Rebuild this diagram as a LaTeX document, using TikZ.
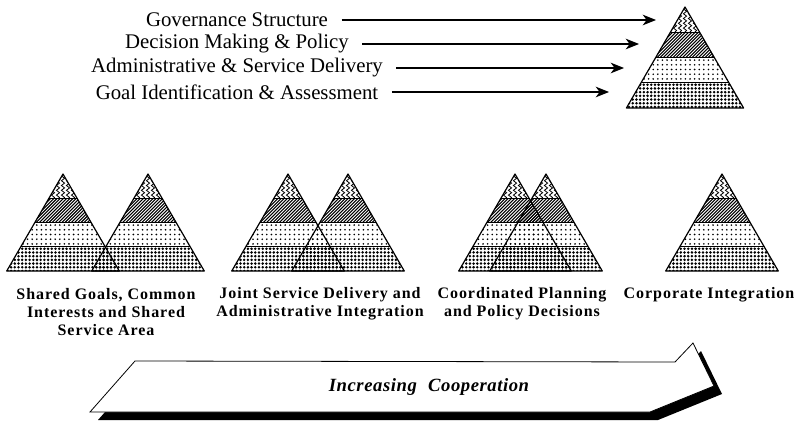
\documentclass[tikz,border=0pt]{standalone}
\usepackage{fontspec}
\setmainfont{Liberation Serif}
\newfontfamily\capfont[LetterSpace=6]{Liberation Serif}
\newfontfamily\banfont[LetterSpace=3]{Liberation Serif}
\usetikzlibrary{arrows.meta,decorations.pathmorphing}

\tikzset{
  edge/.style={line width=0.9pt, line join=round},
  wavy/.style={line width=0.6pt, decorate,
    decoration={snake, segment length=3.6pt, amplitude=1.2pt}},
  hatch/.style={line width=0.8pt},
  lvl/.style={font=\fontsize{15.6}{18}\selectfont, inner sep=2pt},
  stagecap/.style={font=\capfont\bfseries\fontsize{12}{13.6}\selectfont,
    align=center, inner sep=0pt},
  feed/.style={line width=0.95pt, shorten <=8pt,
    -{Stealth[length=10pt,width=8pt,inset=3pt]}},
  face/.style={fill=white, draw=black, line width=0.6pt, line join=miter},
}

% geometry of one pyramid: apex (#1,#2), height #3, four equal bands
\newcommand\pyrgeom[3]{%
  \pgfmathsetmacro\pqx{#1}\pgfmathsetmacro\pqy{#2}%
  \pgfmathsetmacro\pqh{#3/4}%
  \pgfmathsetmacro\pqya{\pqy+\pqh}\pgfmathsetmacro\pqyb{\pqy+2*\pqh}%
  \pgfmathsetmacro\pqyc{\pqy+3*\pqh}\pgfmathsetmacro\pqyd{\pqy+4*\pqh}%
  \pgfmathsetmacro\pqwa{0.58*\pqh}\pgfmathsetmacro\pqwb{2*\pqwa}%
  \pgfmathsetmacro\pqwc{3*\pqwa}\pgfmathsetmacro\pqwd{4*\pqwa}%
}

% the four textured bands of a pyramid
\newcommand\pyrfill[3]{%
  \pyrgeom{#1}{#2}{#3}%
  % tip: vertical waves
  \begin{scope}
    \clip (\pqx,\pqy) -- (\pqx+\pqwa,\pqya) -- (\pqx-\pqwa,\pqya) -- cycle;
    \foreach \j in {-3,...,3}
      \draw[wavy] (\pqx+\j*5,\pqy-2) -- (\pqx+\j*5,\pqya+2);
  \end{scope}
  % second band: diagonal hatching
  \begin{scope}
    \clip (\pqx-\pqwa,\pqya) -- (\pqx+\pqwa,\pqya) -- (\pqx+\pqwb,\pqyb)
      -- (\pqx-\pqwb,\pqyb) -- cycle;
    \pgfmathsetmacro\hs{3.2*floor((\pqx-\pqwb-\pqh-2)/3.2)}%
    \pgfmathsetmacro\ht{\hs+3.2}\pgfmathsetmacro\he{\pqx+\pqwb}%
    \foreach \u in {\hs,\ht,...,\he}
      \draw[hatch] (\u,\pqyb+1) -- ++(\pqh+2,-\pqh-2);
  \end{scope}
  % third band: sparse dots
  \begin{scope}
    \clip (\pqx-\pqwb,\pqyb) -- (\pqx+\pqwb,\pqyb) -- (\pqx+\pqwc,\pqyc)
      -- (\pqx-\pqwc,\pqyc) -- cycle;
    \pgfmathsetmacro\ds{4.6*floor((\pqx-\pqwc)/4.6)}%
    \pgfmathsetmacro\dt{\ds+4.6}\pgfmathsetmacro\de{\pqx+\pqwc}%
    \pgfmathsetmacro\rs{\pqyb+2.6}\pgfmathsetmacro\rt{\rs+4.7}%
    \foreach \u in {\ds,\dt,...,\de}
      \foreach \v in {\rs,\rt,...,\pqyc}
        \fill (\u,\v) circle[radius=0.68pt];
  \end{scope}
  % base band: dense dots
  \begin{scope}
    \clip (\pqx-\pqwc,\pqyc) -- (\pqx+\pqwc,\pqyc) -- (\pqx+\pqwd,\pqyd)
      -- (\pqx-\pqwd,\pqyd) -- cycle;
    \pgfmathsetmacro\ds{3.7*floor((\pqx-\pqwd)/3.7)}%
    \pgfmathsetmacro\dt{\ds+3.7}\pgfmathsetmacro\de{\pqx+\pqwd}%
    \pgfmathsetmacro\rs{\pqyc+2}\pgfmathsetmacro\rt{\rs+3.7}%
    \foreach \u in {\ds,\dt,...,\de}
      \foreach \v in {\rs,\rt,...,\pqyd}
        \fill (\u,\v) circle[radius=1.05pt];
  \end{scope}
}

% outline and band borders of a pyramid
\newcommand\pyredge[3]{%
  \pyrgeom{#1}{#2}{#3}%
  \draw[edge] (\pqx,\pqy) -- (\pqx+\pqwd,\pqyd) -- (\pqx-\pqwd,\pqyd) -- cycle;
  \draw[edge] (\pqx-\pqwa,\pqya) -- (\pqx+\pqwa,\pqya)
              (\pqx-\pqwb,\pqyb) -- (\pqx+\pqwb,\pqyb)
              (\pqx-\pqwc,\pqyc) -- (\pqx+\pqwc,\pqyc);
}

\begin{document}
\begin{tikzpicture}[x=0.75pt, y=-0.75pt]
  \useasboundingbox (0,0) rectangle (810,439);

  % ---- legend pyramid and its levels ----
  \pyrfill{685}{7}{101}
  \pyredge{685}{7}{101}

  \node[lvl] (g1) at (237,20) {Governance Structure};
  \node[lvl] (g2) at (237,44) {Decision Making \& Policy};
  \node[lvl] (g3) at (237,68) {Administrative \& Service Delivery};
  \node[lvl] (g4) at (237,92) {Goal Identification \& Assessment};
  \coordinate (h1) at (656,20);
  \coordinate (h2) at (639,44);
  \coordinate (h3) at (624,68);
  \coordinate (h4) at (609,92);
  \draw[feed] (g1) -- (h1);
  \draw[feed] (g2) -- (h2);
  \draw[feed] (g3) -- (h3);
  \draw[feed] (g4) -- (h4);

  % ---- stages of cooperation ----
  \pyrfill{63}{174}{97}  \pyrfill{148}{174}{97}
  \pyredge{63}{174}{97}  \pyredge{148}{174}{97}

  \pyrfill{288}{174}{97} \pyrfill{348}{174}{97}
  \pyredge{288}{174}{97} \pyredge{348}{174}{97}

  \pyrfill{515}{174}{97} \pyrfill{546}{174}{97}
  \pyredge{515}{174}{97} \pyredge{546}{174}{97}

  \pyrfill{722}{174}{97}
  \pyredge{722}{174}{97}

  \node[stagecap] (s1) at (106,312) {Shared Goals, Common\\Interests and Shared\\Service Area};
  \node[stagecap] (s2) at (320,304) {Joint Service Delivery and\\Administrative Integration};
  \node[stagecap] (s3) at (522,304) {Coordinated Planning\\and Policy Decisions};
  \node[stagecap] (s4) at (709,295) {Corporate Integration};

  % ---- ribbon arrow ----
  \coordinate (ra) at (135,361);
  \coordinate (rb) at (675,362);
  \coordinate (rc) at (693,343);
  \coordinate (rd) at (714,386);
  \coordinate (rf) at (650,412);
  \coordinate (rg) at (90,412);
  \fill[black] ([shift={(8,8)}]ra) -- ([shift={(8,8)}]rb) -- ([shift={(8,8)}]rc)
    -- ([shift={(8,8)}]rd) -- ([shift={(8,8)}]rf) -- ([shift={(8,8)}]rg) -- cycle;
  \draw[face] (ra) -- (rb) -- (rc) -- (rd) -- (rf) -- (rg) -- cycle;
  \node[font=\banfont\bfseries\itshape\fontsize{14}{16}\selectfont] (ic)
    at (429,387) {Increasing\hspace{0.6em}Cooperation};
\end{tikzpicture}
\end{document}
